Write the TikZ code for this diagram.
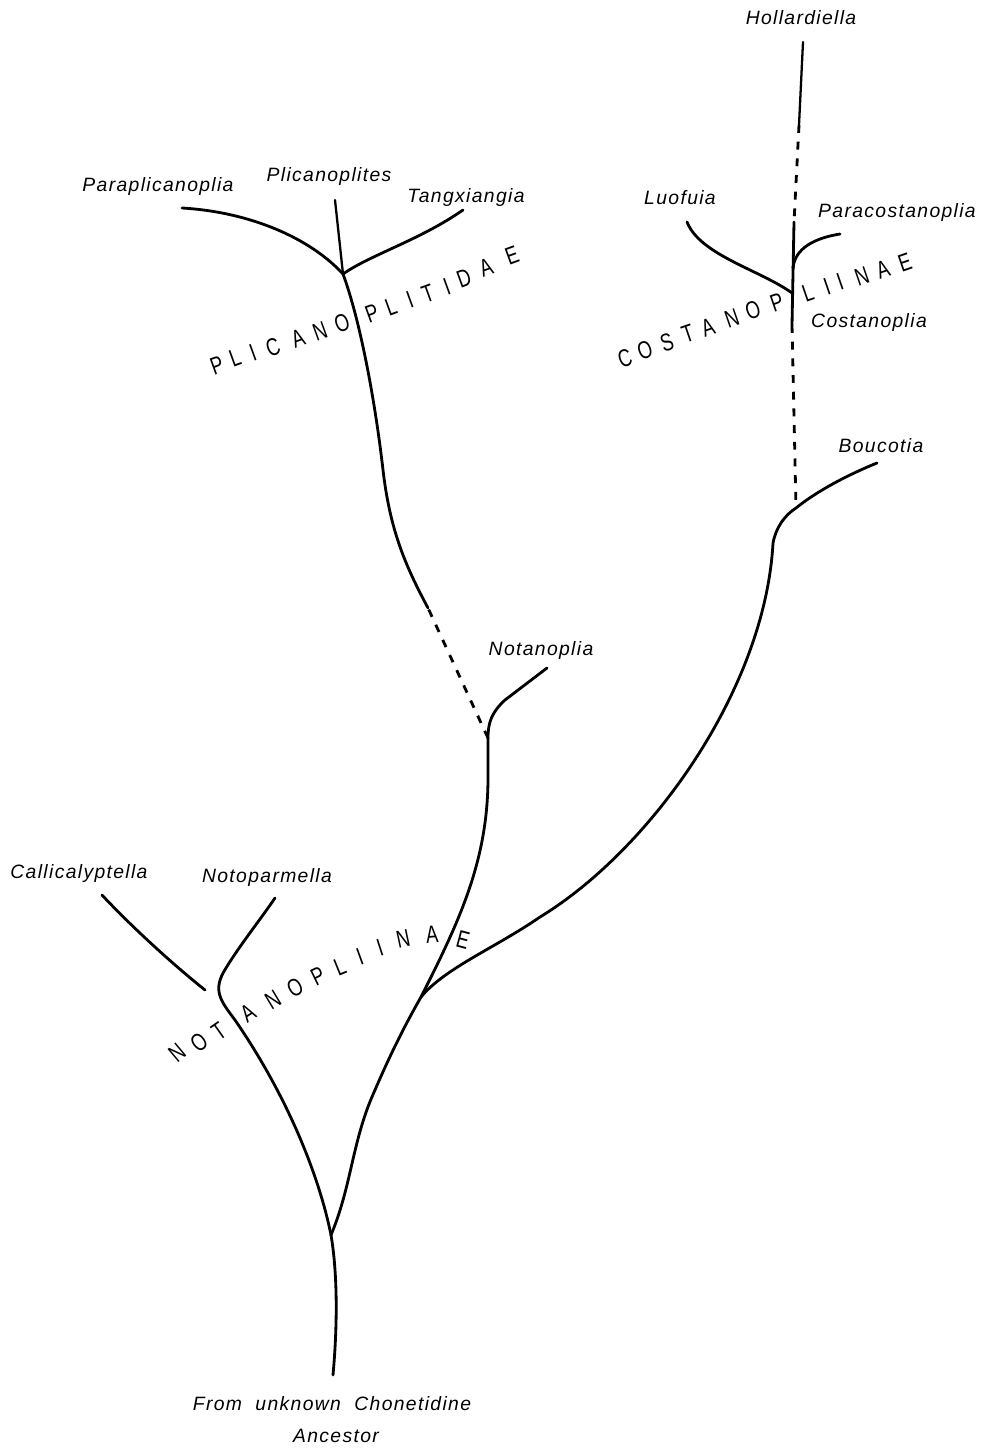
\documentclass[tikz,border=0pt]{standalone}
\usepackage{fontspec}
\setmainfont{Liberation Sans}
\newfontfamily\labfont{Liberation Sans}[LetterSpace=7]
\newfontfamily\grpfont{Liberation Sans}
\begin{document}
\begin{tikzpicture}[x=0.02cm,y=-0.02cm,
  branch/.style={line width=1.6pt, line cap=round, line join=round},
  thinbranch/.style={line width=1.3pt, line cap=round},
  gap/.style={line width=1.6pt, dash pattern=on 4.5pt off 5pt},
  taxon/.style={font=\labfont\itshape\fontsize{11}{13}\selectfont, inner sep=0pt, anchor=base},
  grp/.style={font=\grpfont\fontsize{14}{15}\selectfont, inner sep=0pt, xscale=0.75}]
\useasboundingbox (0,0) rectangle (986,1449);

% coordinates of the tree
\coordinate (root) at (333,1375);
\coordinate (f1) at (331,1235);
\coordinate (nparm) at (275,898);
\coordinate (call) at (102,895);
\coordinate (callend) at (205,990);
\coordinate (f2) at (421,997);
\coordinate (f3) at (488,738);
\coordinate (notan) at (547,668);
\coordinate (d1) at (428,608);
\coordinate (f4) at (343,274);
\coordinate (ppl) at (182,208);
\coordinate (plt) at (335,200);
\coordinate (tan) at (463,210);
\coordinate (bmid) at (540,917);
\coordinate (bup) at (773,543);
\coordinate (bjoin) at (796,508);
\coordinate (bouc) at (877,463);
\coordinate (cbot) at (792,325);
\coordinate (f6) at (792,293);
\coordinate (f5) at (793,268);
\coordinate (ctop) at (794,222);
\coordinate (htop) at (803,42);
\coordinate (hbot) at (799,125);
\coordinate (luo) at (687,222);
\coordinate (pcos) at (840,234);

% trunk and Notanopliinae
\draw[branch] (root) .. controls (338,1320) and (337,1270) .. (f1);
\draw[branch] (f1) .. controls (320,1180) and (290,1100) .. (235,1020)
   .. controls (220,1000) and (212,990) .. (226,968)
   .. controls (240,945) and (260,920) .. (nparm);
\draw[branch] (call) .. controls (130,925) and (170,962) .. (callend);
\draw[branch] (f1) .. controls (352,1185) and (352,1140) .. (375,1090)
   .. controls (390,1055) and (405,1025) .. (f2);
\draw[branch] (f2) .. controls (460,920) and (488,860) .. (488,777) -- (f3);
\draw[branch] (f3) .. controls (488,722) and (492,712) .. (505,700) -- (notan);
\draw[gap] (f3) -- (d1);

% Plicanoplitidae
\draw[branch] (d1) .. controls (405,565) and (390,530) .. (383,470)
   .. controls (375,400) and (360,320) .. (f4);
\draw[branch] (ppl) .. controls (250,212) and (310,238) .. (f4);
\draw[thinbranch] (plt) -- (f4);
\draw[branch] (tan) .. controls (420,240) and (370,255) .. (f4);

% Boucotia and Costanopliinae
\draw[branch] (f2) .. controls (445,968) and (495,948) .. (bmid)
   .. controls (650,850) and (765,690) .. (bup)
   .. controls (776,527) and (785,515) .. (bjoin)
   .. controls (812,495) and (840,478) .. (bouc);
\draw[gap] (cbot) -- (bjoin);
\draw[branch] (ctop) -- (cbot);
\draw[gap] (hbot) -- (ctop);
\draw[thinbranch] (htop) -- (hbot);
\draw[branch] (f5) .. controls (795,248) and (815,238) .. (pcos);
\draw[branch] (luo) .. controls (700,255) and (760,270) .. (f6);

% taxon labels
\node[taxon] (tParaplicanoplia) at (158,192) {Paraplicanoplia};
\node[taxon] (tPlicanoplites) at (329,182) {Plicanoplites};
\node[taxon] (tTangxiangia) at (466,203) {Tangxiangia};
\node[taxon] (tHollardiella) at (801,25) {Hollardiella};
\node[taxon] (tLuofuia) at (680,205) {Luofuia};
\node[taxon] (tParacostanoplia) at (897,218) {Paracostanoplia};
\node[taxon] (tCostanoplia) at (869,327) {Costanoplia};
\node[taxon] (tBoucotia) at (881,452) {Boucotia};
\node[taxon] (tNotanoplia) at (541,655) {Notanoplia};
\node[taxon] (tCallicalyptella) at (79,878) {Callicalyptella};
\node[taxon] (tNotoparmella) at (267,882) {Notoparmella};
\node[taxon] (tFrom) at (332,1410) {From\ \ unknown\ \ Chonetidine};
\node[taxon] (tAncestor) at (336,1442) {Ancestor};

% group names
\foreach \l/\x/\y [count=\i] in {P/217/365, L/235/358, I/253/353, C/273/347, A/298/338, N/320/331, O/342/323, P/372/313, L/391/307, I/410/300, T/428/294, I/447/287, D/464/278, A/486/267, E/512/255}
  \node[rotate=20, grp] (plic\i) at (\x,\y) {\l};
\foreach \l/\x/\y [count=\i] in {C/625/358, O/645/350, S/667/342, T/688/334, A/708/327, N/732/318, O/753/310, P/777/302, L/808/293, I/827/287, I/840/282, N/862/276, A/883/269, E/905/262}
  \node[rotate=19, grp] (cost\i) at (\x,\y) {\l};
\foreach \l/\x/\y/\a [count=\i] in {N/177/1053/40, O/199/1042/37, T/219/1031/35, A/248/1013/33, N/273/1000/31, O/295/988/29, P/318/976/26, L/340/967/22, I/360/957/20, I/380/948/18, N/403/939/12, A/432/935/5, E/463/940/-15}
  \node[rotate=\a, grp] (nota\i) at (\x,\y) {\l};
\end{tikzpicture}
\end{document}
